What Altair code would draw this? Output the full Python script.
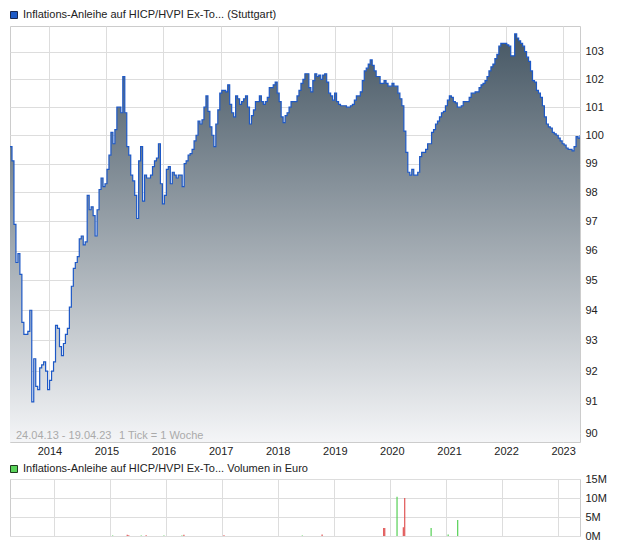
import altair as alt
import pandas as pd

title_main = "Inflations-Anleihe auf HICP/HVPI Ex-To... (Stuttgart)"
title_vol = "Inflations-Anleihe auf HICP/HVPI Ex-To... Volumen in Euro"
period_text = "24.04.13 - 19.04.23"
tick_text = "1 Tick = 1 Woche"
start_date = (2013, 4, 24)
end_date = (2023, 4, 19)

# weekly-chart prices (evenly spaced in time)
prices = [
    99.6, 99.1, 96.9, 95.6, 95.9, 95.2, 93.6, 93.2, 93.2, 93.3,
    94.0, 91.0, 92.4, 91.5, 91.4, 92.1, 92.2, 92.3, 92.0, 91.4,
    91.7, 92.0, 92.3, 93.5, 93.4, 92.8, 92.5, 92.9, 93.2, 93.4,
    94.1, 94.8, 95.4, 95.6, 95.8, 96.4, 96.5, 96.2, 96.3, 97.9,
    97.4, 97.5, 97.2, 96.5, 97.4, 98.1, 98.5, 98.2, 98.3, 98.8,
    99.3, 100.1, 99.7, 100.2, 101.0, 101.0, 100.8, 102.1, 100.8, 99.6,
    99.3, 98.6, 98.4, 97.9, 97.1, 99.1, 99.6, 97.7, 98.6, 98.5,
    98.5, 98.6, 98.9, 99.1, 99.2, 99.7, 98.3, 97.6, 97.9, 98.8,
    98.9, 98.3, 98.7, 98.6, 98.5, 98.6, 98.6, 98.2, 99.0, 99.1,
    99.3, 99.35, 99.5, 99.8, 100.0, 100.5, 100.4, 100.55, 101.0, 101.4,
    100.85, 100.3, 100.0, 99.6, 100.4, 100.9, 101.5, 101.6, 101.6, 101.55,
    101.8, 101.1, 100.8, 100.65, 101.4, 101.3, 101.1, 101.2, 101.3, 101.4,
    101.0, 100.4, 100.7, 100.9, 101.2, 101.2, 101.4, 101.2, 101.1, 101.2,
    101.35, 101.7, 101.7, 101.8, 101.9, 101.5, 101.2, 100.65, 100.45, 100.7,
    100.8, 101.0, 101.2, 101.2, 101.2, 101.4, 101.6, 101.85, 102.0, 102.2,
    102.2, 101.7, 101.55, 101.95, 102.2, 102.1, 102.15, 102.0, 102.15, 102.2,
    101.9, 101.5, 101.4, 101.25, 101.5, 101.2, 101.1, 101.05, 101.05, 101.05,
    101.0, 101.0, 101.05, 101.1, 101.25, 101.4, 101.4, 101.55, 101.95, 102.3,
    102.4, 102.55, 102.7, 102.5, 102.3, 102.1, 102.1, 101.85, 101.85, 101.95,
    101.85, 101.75, 101.75, 101.85, 101.75, 101.75, 101.5, 101.3, 101.05, 100.15,
    99.4, 98.7, 98.6, 98.8, 98.6, 98.6, 98.7, 99.25, 99.4, 99.4,
    99.5, 99.7, 99.7, 100.1, 100.2, 100.4, 100.5, 100.65, 100.8, 100.85,
    101.05, 101.25, 101.4, 101.35, 101.2, 101.15, 101.0, 101.0, 101.05, 101.2,
    101.2, 101.2, 101.35, 101.5, 101.5, 101.55, 101.55, 101.7, 101.8, 101.85,
    101.95, 102.1, 102.3, 102.45, 102.55, 102.75, 102.9, 103.2, 103.3, 103.3,
    103.3, 103.25, 103.2, 102.85, 102.85, 103.65, 103.5, 103.4, 103.3, 103.2,
    103.0, 102.8, 102.65, 102.3, 101.95, 101.9, 101.6, 101.5, 101.35, 101.05,
    100.65, 100.4, 100.3, 100.25, 100.1, 100.05, 100.0, 99.9, 99.8, 99.7,
    99.65, 99.55, 99.5, 99.5, 99.45, 99.6, 99.95, 99.9, 100.0,
]
price_ticks = [90, 91, 92, 93, 94, 95, 96, 97, 98, 99, 100, 101, 102, 103]
price_domain = [89.72, 103.94]
years = [2014, 2015, 2016, 2017, 2018, 2019, 2020, 2021, 2022, 2023]

vol_dates = ["2015-01-20", "2015-04-25", "2015-05-05", "2015-07-25", "2015-08-26",
             "2015-12-20", "2016-04-15", "2016-04-28", "2017-01-14", "2018-06-08",
             "2018-10-15", "2019-11-20", "2019-11-27", "2020-02-15", "2020-03-27",
             "2020-04-05", "2020-09-24", "2021-01-13", "2021-03-16"]
vol_values = [0.1e6, 0.35e6, 0.2e6, 0.15e6, 0.2e6,
              0.15e6, 0.15e6, 0.35e6, 0.2e6, 0.15e6,
              0.4e6, 2.1e6, 2.1e6, 10.3e6, 2.3e6,
              10.0e6, 2.1e6, 0.4e6, 4.2e6]
vol_dir = ["up", "down", "down", "up", "down",
           "up", "up", "down", "down", "up",
           "down", "down", "down", "up", "down",
           "down", "up", "up", "up"]
vol_ticks = [0, 5e6, 10e6, 15e6]

W = 570
H_MAIN = 416
H_VOL = 57

dates = pd.date_range(pd.Timestamp(*start_date), pd.Timestamp(*end_date), periods=len(prices))
df = pd.DataFrame({"date": dates, "price": prices, "base": price_domain[0]})
vdf = pd.DataFrame({"date": pd.to_datetime(vol_dates), "vol": vol_values, "dir": vol_dir})

x_scale = alt.Scale(domain=[alt.DateTime(year=start_date[0], month=start_date[1], date=start_date[2]),
                            alt.DateTime(year=end_date[0], month=end_date[1], date=end_date[2])])
year_vals = [alt.DateTime(year=y, month=1, date=1) for y in years]

x_main = alt.X("date:T", scale=x_scale, title=None,
               axis=alt.Axis(values=year_vals, format="%Y", ticks=False, domain=False,
                             labelPadding=3, grid=True, labelFlush=False))
y_main = alt.Y("price:Q", title=None,
               scale=alt.Scale(type="log", domain=price_domain, nice=False, zero=False),
               axis=alt.Axis(orient="right", values=price_ticks, format="d", ticks=False,
                             domain=False, labelPadding=5, grid=True))

gradient = alt.Gradient(
    gradient="linear",
    stops=[alt.GradientStop(color="#465764", offset=0),
           alt.GradientStop(color="#f4f5f7", offset=1)],
    x1=1, x2=1, y1=0, y2=1,
)

area = alt.Chart(df).mark_area(interpolate="step-after", color=gradient, opacity=1, clip=True).encode(
    x=x_main, y=y_main, y2="base:Q")
line = alt.Chart(df).mark_line(interpolate="step-after", color="#1d58c6", strokeWidth=1.2,
                               clip=True).encode(x="date:T", y="price:Q")

one = pd.DataFrame({"t": [title_main]})
leg_sq = alt.Chart(one).mark_square(size=49, color="#1f5bc7", stroke="#1a2850", strokeWidth=1,
                                    opacity=1).encode(x=alt.value(4), y=alt.value(-11))
leg_tx = alt.Chart(one).mark_text(align="left", baseline="middle", fontSize=11, color="#222222").encode(
    x=alt.value(13), y=alt.value(-11), text="t:N")
ann1 = alt.Chart(pd.DataFrame({"t": [period_text]})).mark_text(
    align="left", baseline="middle", fontSize=11, color="#aaaaaa").encode(
    x=alt.value(6), y=alt.value(H_MAIN - 6), text="t:N")
ann2 = alt.Chart(pd.DataFrame({"t": [tick_text]})).mark_text(
    align="left", baseline="middle", fontSize=11, color="#aaaaaa").encode(
    x=alt.value(109), y=alt.value(H_MAIN - 6), text="t:N")

main = alt.layer(area, line, leg_sq, leg_tx, ann1, ann2).properties(width=W, height=H_MAIN)

bars = alt.Chart(vdf).mark_bar(size=1.2).encode(
    x=alt.X("date:T", scale=x_scale, title=None,
            axis=alt.Axis(values=year_vals, labels=False, ticks=False, domain=False, grid=True)),
    y=alt.Y("vol:Q", title=None, scale=alt.Scale(domain=[0, 15e6], nice=False),
            axis=alt.Axis(orient="right", values=vol_ticks, ticks=False, domain=False,
                          labelPadding=5, grid=True,
                          labelExpr="format(datum.value / 1000000, 'd') + 'M'")),
    color=alt.Color("dir:N", legend=None,
                    scale=alt.Scale(domain=["up", "down"], range=["#55d055", "#e05555"])),
)
vone = pd.DataFrame({"t": [title_vol]})
vleg_sq = alt.Chart(vone).mark_square(size=49, color="#5ad35a", stroke="#1f3a1f", strokeWidth=1,
                                      opacity=1).encode(x=alt.value(4), y=alt.value(-10))
vleg_tx = alt.Chart(vone).mark_text(align="left", baseline="middle", fontSize=11, color="#222222").encode(
    x=alt.value(13), y=alt.value(-10), text="t:N")
vol = alt.layer(bars, vleg_sq, vleg_tx).properties(width=W, height=H_VOL)

chart = alt.vconcat(main, vol, spacing=37, bounds="flush").properties(
    padding={"left": 0, "top": 0, "right": 0, "bottom": 0}
).configure(font="Liberation Sans").configure_view(
    stroke="#cccccc"
).configure_axis(
    gridColor="#dddddd", gridWidth=1, labelFontSize=11, labelColor="#222222",
    labelFont="Liberation Sans"
)

chart.save("out.html", embed_options={"renderer": "svg", "actions": False})
